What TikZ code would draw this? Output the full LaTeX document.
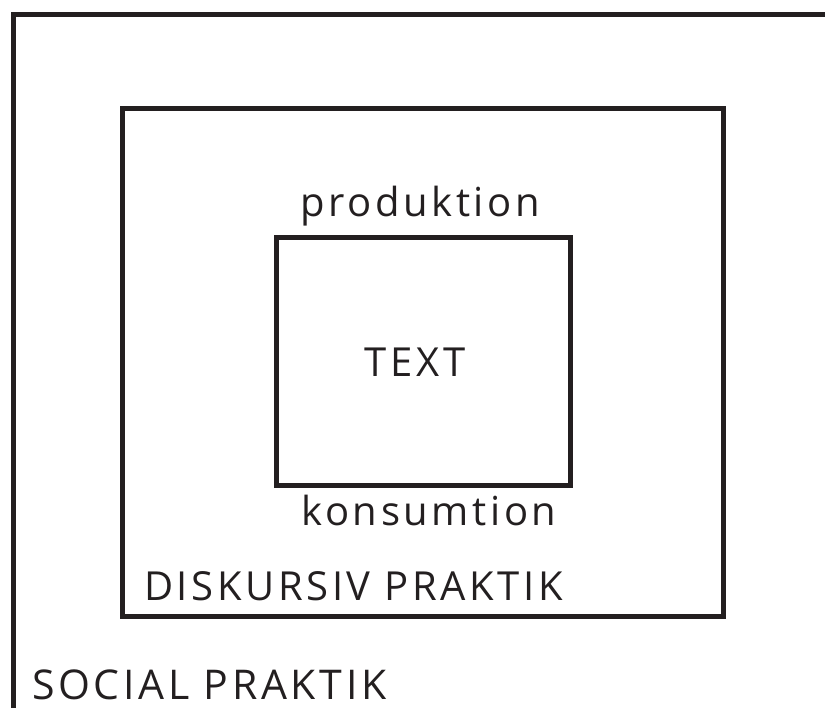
\documentclass[tikz,border=0pt]{standalone}
\usepackage{fontspec}
\setmainfont[LetterSpace=9]{Open Sans}
\definecolor{ink}{HTML}{231F20}
\begin{document}
\begin{tikzpicture}[x=1pt, y=-1pt,
    box/.style={draw=ink, line width=5pt, inner sep=0pt},
    lbl/.style={text=ink, inner sep=0pt, font=\fontsize{40}{44}\selectfont}]
    \useasboundingbox (0,0) rectangle (825,708);
    \clip (0,0) rectangle (825,708);

    % Boxes, from the outside in
    \node[box, anchor=north west, minimum width=900pt, minimum height=800pt] (social) at (10.5,12) {};
    \node[box, minimum width=601pt, minimum height=507.5pt] (discourse) at (423,362.25) {};
    \node[box, minimum width=294pt, minimum height=248pt] (inner) at (423,362) {};

    % Labels
    \node[lbl, anchor=base] (prod) at (420,217) {produktion};
    \node[lbl] (text) at (415,362) {TEXT};
    \node[lbl, anchor=base] (kons) at (429,525) {konsumtion};
    \node[lbl, anchor=base west] (disk) at (144,600) {DISKURSIV PRAKTIK};
    \node[lbl, anchor=base west, font=\fontsize{41}{44}\selectfont] (soc) at (32,699) {SOCIAL PRAKTIK};
  \end{tikzpicture}
\end{document}
